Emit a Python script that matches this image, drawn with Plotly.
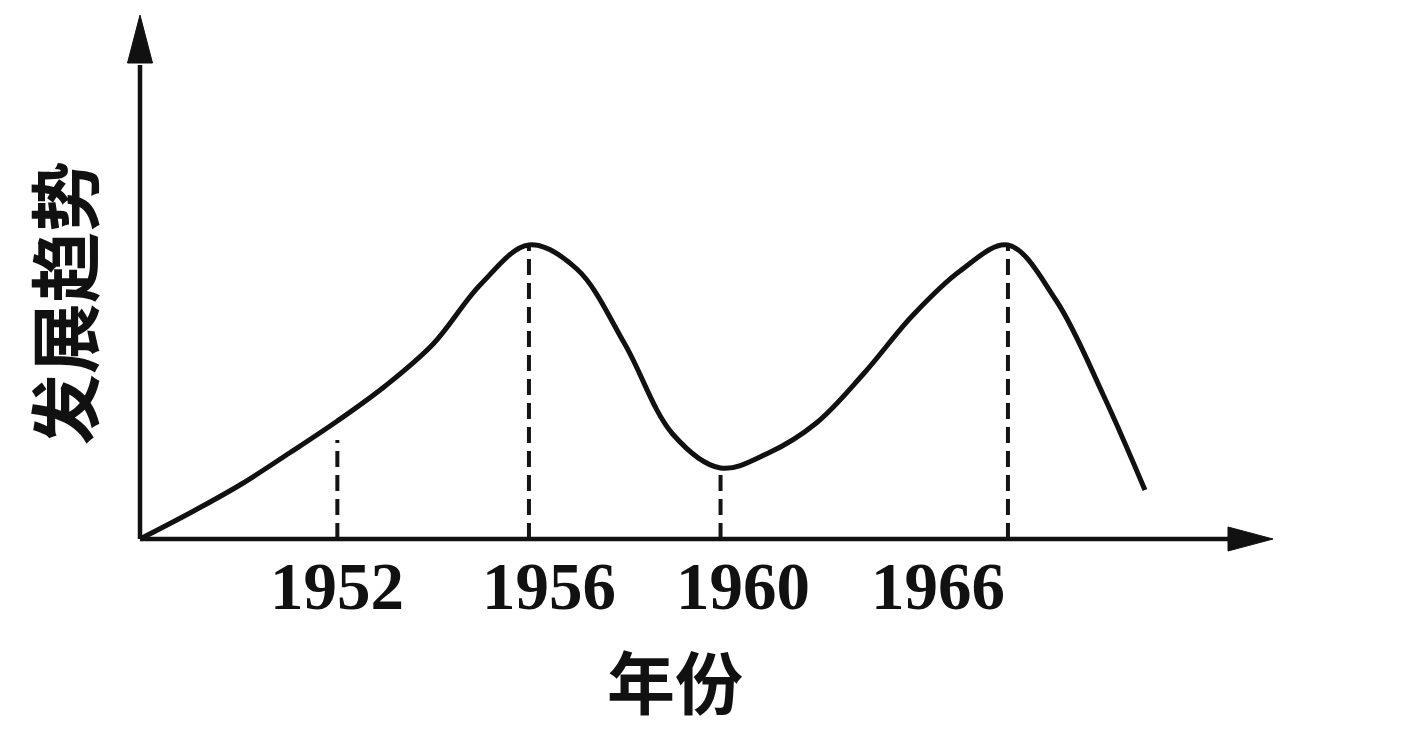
import plotly.graph_objects as go

# ---- data ----
curve_years = [1947.88, 1949, 1950, 1951, 1952, 1953, 1954, 1955, 1956, 1957, 1958, 1959,
               1960, 1961, 1962, 1963, 1964, 1965, 1966, 1967, 1968, 1968.86]
curve_values = [0, 28, 55, 86, 118, 153, 195, 255, 294, 270, 195, 105,
                71, 86, 116, 166, 223, 268, 294, 239, 143, 49]
marker_years = [1952, 1956, 1960, 1966]
marker_tops = [99, 294, 69, 294]
tick_labels = ["1952", "1956", "1960", "1966"]
x_title = "年份"
y_title = "发展趋势"

# ---- layout geometry (page pixels) ----
W, H = 1408, 736
OFF = 8                      # page body margin
ORIG_X, ORIG_Y = 140, 539    # axis origin in page pixels
PX_PER_YEAR = 47.9
YR0 = curve_years[0]

def dx(px):
    return YR0 + (px - ORIG_X) / PX_PER_YEAR

def dy(py):
    return ORIG_Y - py

x_range = [dx(OFF), dx(OFF + W)]
y_range = [dy(OFF + H), dy(OFF)]

fig = go.Figure()

# dashed guide lines
for yr, top in zip(marker_years, marker_tops):
    fig.add_trace(go.Scatter(x=[yr, yr], y=[0, top], mode="lines",
                             line=dict(color="#141414", width=4, dash="16px,8px"),
                             hoverinfo="skip", showlegend=False))

# main curve
fig.add_trace(go.Scatter(x=curve_years, y=curve_values, mode="lines",
                         line=dict(color="#111111", width=5, shape="spline", smoothing=1.0),
                         showlegend=False))

# axes with arrows
ax_w = 4.5
x_tip, y_tip = dx(1273), dy(15)
xa_base = dx(1228)
xa_half = 12
ya_base = dy(63)
ya_half = 12.5 / PX_PER_YEAR
shapes = [
    dict(type="line", x0=YR0, y0=0, x1=xa_base + 0.05, y1=0, line=dict(color="#111", width=ax_w)),
    dict(type="line", x0=YR0, y0=0, x1=YR0, y1=ya_base - 2, line=dict(color="#111", width=ax_w)),
    dict(type="path", path=f"M {x_tip} 0 L {xa_base} {xa_half} L {xa_base} {-xa_half} Z",
         fillcolor="#111", line=dict(color="#111", width=1)),
    dict(type="path", path=f"M {YR0} {y_tip} L {YR0 - ya_half} {ya_base} L {YR0 + ya_half} {ya_base} Z",
         fillcolor="#111", line=dict(color="#111", width=1)),
]

label_shift = [0, 20, 22, -70]
annotations = []
for yr, lab, sh in zip(marker_years, tick_labels, label_shift):
    annotations.append(dict(x=yr, y=dy(586), text=lab, showarrow=False,
                            xanchor="center", yanchor="middle", xshift=sh,
                            font=dict(family="Liberation Serif", size=67, color="#111", weight="bold")))
annotations.append(dict(x=dx(675), y=dy(679), text=x_title, showarrow=False,
                        xanchor="center", yanchor="middle",
                        font=dict(family="Noto Sans CJK SC", size=68, color="#111", weight="bold")))
annotations.append(dict(x=dx(61), y=dy(303), text=y_title, showarrow=False,
                        textangle=-90, xanchor="center", yanchor="middle",
                        font=dict(family="Noto Sans CJK SC", size=71, color="#111", weight="bold")))

fig.update_layout(
    width=W, height=H,
    margin=dict(l=0, r=0, t=0, b=0, pad=0),
    paper_bgcolor="white", plot_bgcolor="white",
    xaxis=dict(range=x_range, visible=False, fixedrange=True),
    yaxis=dict(range=y_range, visible=False, fixedrange=True),
    shapes=shapes, annotations=annotations, showlegend=False,
)

fig.write_html("out.html")
